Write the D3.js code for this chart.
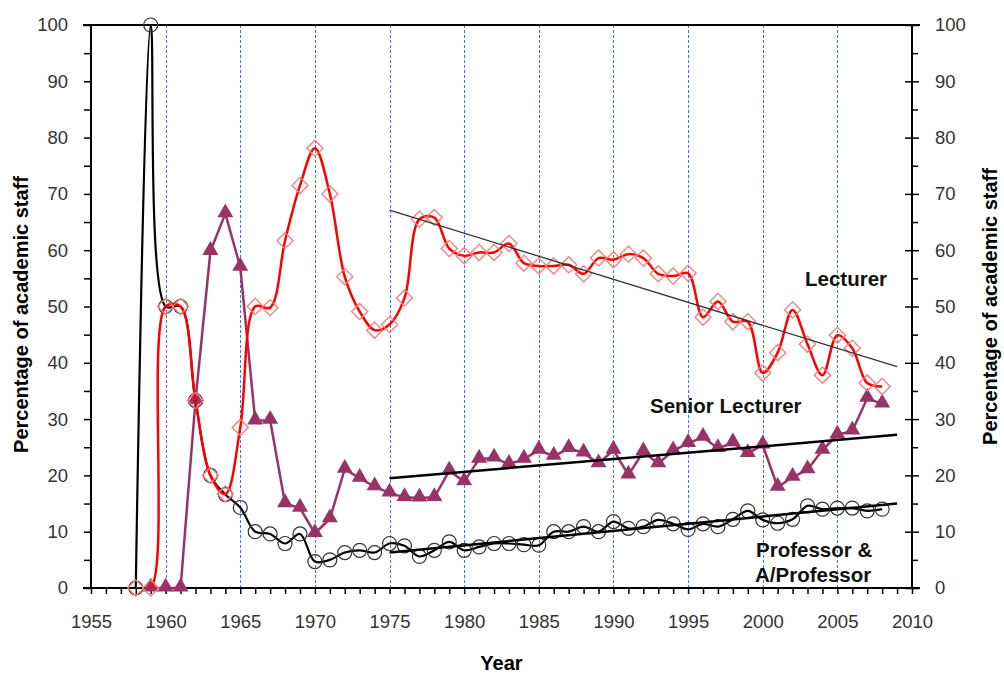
<!DOCTYPE html>
<html>
<head>
<meta charset="utf-8">
<script src="https://cdn.jsdelivr.net/npm/d3@7"></script>
<style>
  body { margin: 0; background: #fff; }
  svg { display: block; font-family: "Liberation Sans", Arial, sans-serif; }
</style>
</head>
<body>
<div id="chart"></div>
<script>
const WIDTH = 1004, HEIGHT = 674;
const LEFT = 91, RIGHT = 912, TOP = 25, BOTTOM = 588;

// data
const YEARS = d3.range(1958, 2009);
const PROFESSOR = [0, 100, 50, 50, 33.3, 20, 16.6, 14.3, 10, 9.6, 7.9, 9.6, 4.7, 5, 6.3, 6.7, 6.3, 7.9, 7.5, 5.6,
    6.7, 8.2, 6.7, 7.3, 7.9, 7.9, 7.7, 7.6, 10, 10, 10.9, 10, 11.8, 10.6, 10.9, 12.1, 11.4, 10.4, 11.4, 10.9,
    12.2, 13.7, 12.1, 11.5, 12.2, 14.6, 14, 14.2, 14.2, 13.7, 14];
const LECTURER = [0, 0, 50, 50, 33.3, 20, 16.7, 28.5, 50, 49.8, 61.7, 71.5, 78.1, 70, 55.3, 49.1, 45.8, 46.8, 51.5, 65.5,
    65.8, 60.3, 59, 59.6, 59.6, 61.2, 57.7, 57.2, 57.2, 57.4, 55.8, 58.6, 58.3, 59.3, 58.6, 55.8, 55.4, 55.9, 48.1, 50.9,
    47.3, 47.3, 38.2, 41.8, 49.4, 43.3, 37.8, 44.9, 42.6, 36.4, 35.8];
const SENIOR_YEARS = d3.range(1959, 2009);
const SENIOR = [0, 0, 0, 33.3, 59.8, 66.5, 57, 29.7, 29.8, 15, 14.2, 9.7, 12.3, 21.1, 19.5, 18, 16.9, 16.1, 16, 16.1,
    20.8, 18.9, 22.9, 23.1, 22, 22.9, 24.5, 23.4, 24.8, 24, 22.1, 24.5, 20.1, 24.2, 22.1, 24.4, 25.7, 26.8, 24.8, 25.8,
    23.9, 25.4, 17.9, 19.7, 21, 24.5, 27.2, 27.9, 33.7, 32.7];
const TREND_YEARS = [1975, 2009];
const LECTURER_TREND = [67.1, 39.3];
const SENIOR_TREND = [19.5, 27.2];
const PROFESSOR_TREND = [6.3, 15];
const GRID_YEARS = d3.range(1960, 2010, 5);
const X_TICKS = d3.range(1955, 2011, 5);
const Y_TICKS = d3.range(0, 101, 10);

const svg = d3.select("#chart")
    .append("svg")
    .attr("width", WIDTH)
    .attr("height", HEIGHT);

const x = d3.scaleLinear().domain([1955, 2010]).range([LEFT, RIGHT]);
const y = d3.scaleLinear().domain([0, 100]).range([BOTTOM, TOP]);

svg.append("clipPath")
    .attr("id", "plot-clip")
    .append("rect")
    .attr("x", LEFT).attr("y", TOP)
    .attr("width", RIGHT - LEFT).attr("height", BOTTOM - TOP);

const crisp = v => Math.round(v) + 0.5;
svg.append("g")
    .selectAll("line")
    .data(GRID_YEARS)
    .join("line")
    .attr("x1", d => crisp(x(d))).attr("x2", d => crisp(x(d)))
    .attr("y1", TOP).attr("y2", BOTTOM)
    .attr("stroke", "#3f74ff")
    .attr("stroke-width", 1)
    .attr("stroke-dasharray", "3,2");

// axes
const axisStyle = g => {
    g.select(".domain").remove();
    g.selectAll("line").attr("stroke", "#000").attr("stroke-width", 1.5);
    g.selectAll("text").attr("fill", "#333").attr("font-size", 18.5);
}
svg.append("g")
    .attr("transform", `translate(0,${BOTTOM})`)
    .call(d3.axisBottom(x).tickValues(d3.range(1955, 2011)).tickSize(6).tickFormat(""))
    .call(axisStyle);
svg.append("g")
    .attr("transform", `translate(0,${BOTTOM})`)
    .call(d3.axisBottom(x).tickValues(X_TICKS).tickSize(0).tickPadding(27).tickFormat(d3.format("d")))
    .call(axisStyle);
svg.append("g")
    .attr("transform", `translate(${LEFT},0)`)
    .call(d3.axisLeft(y).tickValues(d3.range(0, 101, 5)).tickSize(7).tickFormat(""))
    .call(axisStyle);
svg.append("g")
    .attr("transform", `translate(${LEFT},0)`)
    .call(d3.axisLeft(y).tickValues(Y_TICKS).tickSize(0).tickPadding(23))
    .call(axisStyle);
svg.append("g")
    .attr("transform", `translate(${RIGHT},0)`)
    .call(d3.axisRight(y).tickValues(d3.range(5, 100, 10)).tickSize(6).tickFormat(""))
    .call(axisStyle);
svg.append("g")
    .attr("transform", `translate(${RIGHT - 7},0)`)
    .call(d3.axisRight(y).tickValues(Y_TICKS).tickSize(14).tickPadding(16))
    .call(axisStyle);

const frame = svg.append("g").attr("stroke", "#000").attr("stroke-width", 2);
frame.append("line").attr("x1", LEFT).attr("x2", LEFT).attr("y1", TOP).attr("y2", BOTTOM);
frame.append("line").attr("x1", RIGHT).attr("x2", RIGHT).attr("y1", TOP).attr("y2", BOTTOM);
frame.append("line").attr("x1", LEFT - 8).attr("x2", RIGHT + 8).attr("y1", BOTTOM).attr("y2", BOTTOM);
frame.append("line").attr("x1", LEFT - 8).attr("x2", RIGHT + 8).attr("y1", TOP).attr("y2", TOP);

// series
const zip = (xs, ys) => xs.map((d, i) => ({ year: d, value: ys[i] }));
const straight = d3.line().x(d => x(d.year)).y(d => y(d.value));
const smooth = d3.line().x(d => x(d.year)).y(d => y(d.value)).curve(d3.curveCatmullRom.alpha(0.5));

const seniorData = zip(SENIOR_YEARS, SENIOR);
svg.append("path")
    .attr("d", straight(seniorData))
    .attr("fill", "none")
    .attr("stroke", "#993366")
    .attr("stroke-width", 2.5);
svg.append("g")
    .selectAll("path")
    .data(seniorData)
    .join("path")
    .attr("transform", d => `translate(${x(d.year)},${y(d.value) - 1})`)
    .attr("d", d3.symbol(d3.symbolTriangle, 110))
    .attr("fill", "#993366");

const profData = zip(YEARS, PROFESSOR);
svg.append("path")
    .attr("d", smooth(profData))
    .attr("clip-path", "url(#plot-clip)")
    .attr("fill", "none")
    .attr("stroke", "#000")
    .attr("stroke-width", 2.2);
svg.append("g")
    .selectAll("circle")
    .data(profData)
    .join("circle")
    .attr("cx", d => x(d.year))
    .attr("cy", d => y(d.value))
    .attr("r", 7)
    .attr("fill", "none")
    .attr("stroke", "#333")
    .attr("stroke-width", 1.2);

const lectData = zip(YEARS, LECTURER);
svg.append("path")
    .attr("d", smooth(lectData))
    .attr("clip-path", "url(#plot-clip)")
    .attr("fill", "none")
    .attr("stroke", "#ff0000")
    .attr("stroke-width", 2.5);
svg.append("g")
    .selectAll("path")
    .data(lectData)
    .join("path")
    .attr("transform", d => `translate(${x(d.year)},${y(d.value)}) rotate(45)`)
    .attr("d", "M-5.7,-5.7H5.7V5.7H-5.7Z")
    .attr("fill", "none")
    .attr("stroke", "#ff7a7a")
    .attr("stroke-width", 1.3);

// trend lines
svg.append("path")
    .attr("d", straight(zip(TREND_YEARS, LECTURER_TREND)))
    .attr("stroke", "#333").attr("stroke-width", 1.3);
svg.append("path")
    .attr("d", straight(zip(TREND_YEARS, SENIOR_TREND)))
    .attr("stroke", "#000").attr("stroke-width", 2.5);
svg.append("path")
    .attr("d", straight(zip(TREND_YEARS, PROFESSOR_TREND)))
    .attr("stroke", "#000").attr("stroke-width", 2.5);

// labels
const label = (text, px, py) => svg.append("text")
    .attr("x", px).attr("y", py)
    .attr("font-size", 20.5)
    .attr("font-weight", "bold")
    .attr("fill", "#111")
    .text(text);
label("Lecturer", 805, 286);
label("Senior Lecturer", 650, 413);
label("Professor &", 756, 557);
label("A/Professor", 755, 582);

svg.append("text")
    .attr("transform", `translate(28,${(TOP + BOTTOM) / 2 + 8}) rotate(-90)`)
    .attr("text-anchor", "middle")
    .attr("font-size", 20).attr("font-weight", "bold")
    .text("Percentage of academic staff");
svg.append("text")
    .attr("transform", `translate(997,${(TOP + BOTTOM) / 2}) rotate(-90)`)
    .attr("text-anchor", "middle")
    .attr("font-size", 20).attr("font-weight", "bold")
    .text("Percentage of academic staff");
svg.append("text")
    .attr("x", (LEFT + RIGHT) / 2).attr("y", 670)
    .attr("text-anchor", "middle")
    .attr("font-size", 20).attr("font-weight", "bold")
    .text("Year");
</script>
</body>
</html>
